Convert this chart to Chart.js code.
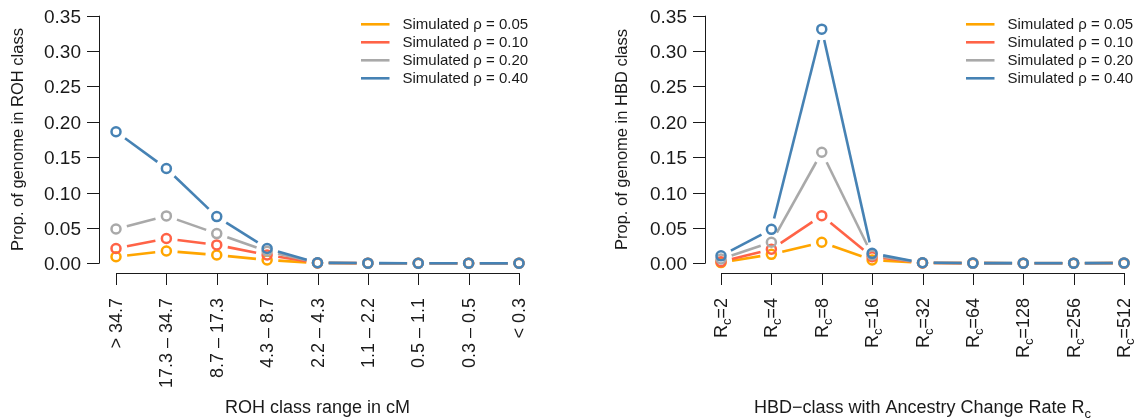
<!DOCTYPE html>
<html>
<head>
<meta charset="utf-8">
<script src="https://cdn.jsdelivr.net/npm/chart.js@4"></script>
<style>
  html, body { margin: 0; padding: 0; background: #fff; }
  #wrap { position: relative; width: 1139px; height: 419px; }
  #wrap canvas { position: absolute; top: 0; }
</style>
</head>
<body>
<div id="wrap">
  <canvas id="rohChart" width="606" height="419" style="left:0px"></canvas>
  <canvas id="hbdChart" width="533" height="419" style="left:606px"></canvas>
</div>
<script>
// ROH panel (left)
var rohClasses = ['> 34.7', '17.3 – 34.7', '8.7 – 17.3', '4.3 – 8.7', '2.2 – 4.3', '1.1 – 2.2', '0.5 – 1.1', '0.3 – 0.5', '< 0.3'];
var rohRho05 = [0.0093, 0.0174, 0.0117, 0.0047, 0.0004, 0.0001, 0.0000, 0.0000, 0.0000];
var rohRho10 = [0.0210, 0.0350, 0.0260, 0.0117, 0.0006, 0.0002, 0.0000, 0.0000, 0.0000];
var rohRho20 = [0.0485, 0.0670, 0.0420, 0.0170, 0.0008, 0.0002, 0.0000, 0.0000, 0.0000];
var rohRho40 = [0.1860, 0.1340, 0.0660, 0.0210, 0.0008, 0.0002, 0.0001, 0.0000, 0.0000];

// HBD panel (right)
var hbdRates = ['2', '4', '8', '16', '32', '64', '128', '256', '512'];
var hbdRho05 = [0.0010, 0.0127, 0.0297, 0.0047, 0.0005, 0.0002, 0.0001, 0.0001, 0.0002];
var hbdRho10 = [0.0023, 0.0198, 0.0673, 0.0093, 0.0006, 0.0002, 0.0001, 0.0001, 0.0002];
var hbdRho20 = [0.0060, 0.0297, 0.1570, 0.0117, 0.0007, 0.0003, 0.0002, 0.0002, 0.0003];
var hbdRho40 = [0.0105, 0.0480, 0.3310, 0.0141, 0.0008, 0.0003, 0.0002, 0.0002, 0.0004];

var seriesLabels = ['Simulated ρ = 0.05', 'Simulated ρ = 0.10', 'Simulated ρ = 0.20', 'Simulated ρ = 0.40'];
var seriesColors = ['#FFA500', '#FF6347', '#A9A9A9', '#4682B4'];
var yTickValues = [0.00, 0.05, 0.10, 0.15, 0.20, 0.25, 0.30, 0.35];

var FONT = "'Liberation Sans', Arial, Helvetica, sans-serif";
var INK = '#1a1a1a';

// draws text made of parts (some subscript), starting at x along the baseline
function drawParts(ctx, parts, x, y) {
    var cx = x;
    for (var i = 0; i < parts.length; i++) {
        ctx.font = parts[i].size + 'px ' + FONT;
        ctx.fillText(parts[i].t, cx, y + (parts[i].dy || 0));
        cx += ctx.measureText(parts[i].t).width;
    }
}
function partsWidth(ctx, parts) {
    var w = 0;
    for (var i = 0; i < parts.length; i++) {
        ctx.font = parts[i].size + 'px ' + FONT;
        w += ctx.measureText(parts[i].t).width;
    }
    return w;
}

// R type="b": lines stop short of each point
var gappedLines = {
    id: 'gappedLines',
    beforeDatasetDraw(chart, args) {
        var ctx = chart.ctx;
        var pts = args.meta.data;
        var gap = 11.2;
        ctx.save();
        ctx.strokeStyle = chart.data.datasets[args.index].borderColor;
        ctx.lineWidth = 2.6;
        ctx.lineCap = 'butt';
        for (var i = 0; i < pts.length - 1; i++) {
            var dx = pts[i + 1].x - pts[i].x;
            var dy = pts[i + 1].y - pts[i].y;
            var len = Math.sqrt(dx * dx + dy * dy);
            if (len <= 2 * gap) continue;
            var ux = dx / len, uy = dy / len;
            ctx.beginPath();
            ctx.moveTo(pts[i].x + ux * gap, pts[i].y + uy * gap);
            ctx.lineTo(pts[i + 1].x - ux * gap, pts[i + 1].y - uy * gap);
            ctx.stroke();
        }
        ctx.restore();
    }
};

// R style detached axes, titles and legend
var rAxes = {
    id: 'rAxes',
    afterDraw(chart, args, opts) {
        var ctx = chart.ctx;
        var xs = chart.scales.x, ys = chart.scales.y;
        var axisX = opts.axisX;
        var axisY = opts.axisY;
        ctx.save();
        ctx.strokeStyle = INK;
        ctx.fillStyle = INK;
        ctx.lineWidth = 1;

        // y axis
        var yTop = ys.getPixelForValue(yTickValues[yTickValues.length - 1]);
        var yBot = ys.getPixelForValue(yTickValues[0]);
        ctx.beginPath();
        ctx.moveTo(axisX + 0.5, yTop);
        ctx.lineTo(axisX + 0.5, yBot);
        ctx.stroke();
        ctx.font = '19px ' + FONT;
        ctx.textAlign = 'right';
        ctx.textBaseline = 'middle';
        yTickValues.forEach(function (v) {
            var py = Math.round(ys.getPixelForValue(v)) + 0.5;
            ctx.beginPath();
            ctx.moveTo(axisX + 0.5, py);
            ctx.lineTo(axisX - 12, py);
            ctx.stroke();
            ctx.fillText(v.toFixed(2), axisX - 18, py + 1);
        });

        // y title
        ctx.save();
        ctx.translate(opts.yTitleX, (yTop + yBot) / 2);
        ctx.rotate(-Math.PI / 2);
        ctx.textAlign = 'center';
        ctx.font = '16.5px ' + FONT;
        ctx.fillText(opts.yTitle, 0, 0);
        ctx.restore();

        // x axis
        var labels = chart.data.labels;
        var x0 = xs.getPixelForValue(0), x1 = xs.getPixelForValue(labels.length - 1);
        ctx.beginPath();
        ctx.moveTo(x0, axisY + 0.5);
        ctx.lineTo(x1, axisY + 0.5);
        ctx.stroke();
        for (var i = 0; i < labels.length; i++) {
            var px = Math.round(xs.getPixelForValue(i)) + 0.5;
            ctx.beginPath();
            ctx.moveTo(px, axisY);
            ctx.lineTo(px, axisY + 12);
            ctx.stroke();
            ctx.save();
            ctx.translate(px + 1, opts.labelTop);
            ctx.rotate(-Math.PI / 2);
            ctx.textAlign = 'left';
            ctx.textBaseline = 'middle';
            var parts = opts.labelParts(labels[i]);
            drawParts(ctx, parts, -partsWidth(ctx, parts), 0);
            ctx.restore();
        }

        // x title
        ctx.textAlign = 'left';
        ctx.textBaseline = 'alphabetic';
        var tw = partsWidth(ctx, opts.xTitle);
        drawParts(ctx, opts.xTitle, (x0 + x1) / 2 - tw / 2, opts.xTitleY);

        // legend
        ctx.textBaseline = 'middle';
        chart.data.datasets.forEach(function (ds, k) {
            var ly = opts.legendY + k * 18;
            ctx.strokeStyle = ds.borderColor;
            ctx.lineWidth = 2.6;
            ctx.beginPath();
            ctx.moveTo(opts.legendX, ly);
            ctx.lineTo(opts.legendX + 28.5, ly);
            ctx.stroke();
            ctx.font = '15px ' + FONT;
            ctx.fillStyle = INK;
            ctx.fillText(ds.label, opts.legendX + 41.5, ly + 1);
        });
        ctx.restore();
    }
};

function makeDatasets(series) {
    return series.map(function (values, k) {
        return {
            label: seriesLabels[k],
            data: values,
            borderColor: seriesColors[k],
            pointBorderColor: seriesColors[k],
            pointBackgroundColor: 'rgba(0,0,0,0)',
            pointRadius: 4.5,
            pointHoverRadius: 4.5,
            pointBorderWidth: 2.5,
            showLine: false,
            clip: false,
            order: 3 - k
        };
    });
}

function makeChart(id, labels, series, left, right, rOpts) {
    var canvas = document.getElementById(id);
    return new Chart(canvas, {
        type: 'line',
        data: { labels: labels, datasets: makeDatasets(series) },
        options: {
            responsive: false,
            animation: false,
            events: [],
            layout: { padding: { left: left, right: canvas.width - right, top: 15.7, bottom: 419 - 263.3 } },
            scales: {
                x: { type: 'category', display: false, offset: false },
                y: { type: 'linear', display: false, min: 0, max: 0.35 }
            },
            plugins: { legend: { display: false }, tooltip: { enabled: false }, rAxes: rOpts }
        },
        plugins: [gappedLines, rAxes]
    });
}

makeChart('rohChart', rohClasses, [rohRho05, rohRho10, rohRho20, rohRho40], 116, 519, {
    axisX: 99, axisY: 273, yTitleX: 18.5, labelTop: 298,
    yTitle: 'Prop. of genome in ROH class',
    labelParts: function (s) { return [{ t: s, size: 18 }]; },
    xTitle: [{ t: 'ROH class range in cM', size: 18 }],
    xTitleY: 413, legendX: 361, legendY: 24.3
});

makeChart('hbdChart', hbdRates, [hbdRho05, hbdRho10, hbdRho20, hbdRho40], 115, 518, {
    axisX: 99, axisY: 273, yTitleX: 16.5, labelTop: 298,
    yTitle: 'Prop. of genome in HBD class',
    labelParts: function (s) { return [{ t: 'R', size: 18 }, { t: 'c', size: 13, dy: 5 }, { t: '=' + s, size: 18 }]; },
    xTitle: [{ t: 'HBD\u2212class with Ancestry Change Rate R', size: 18 }, { t: 'c', size: 13, dy: 5 }],
    xTitleY: 413, legendX: 360, legendY: 24.3
});
</script>
</body>
</html>
